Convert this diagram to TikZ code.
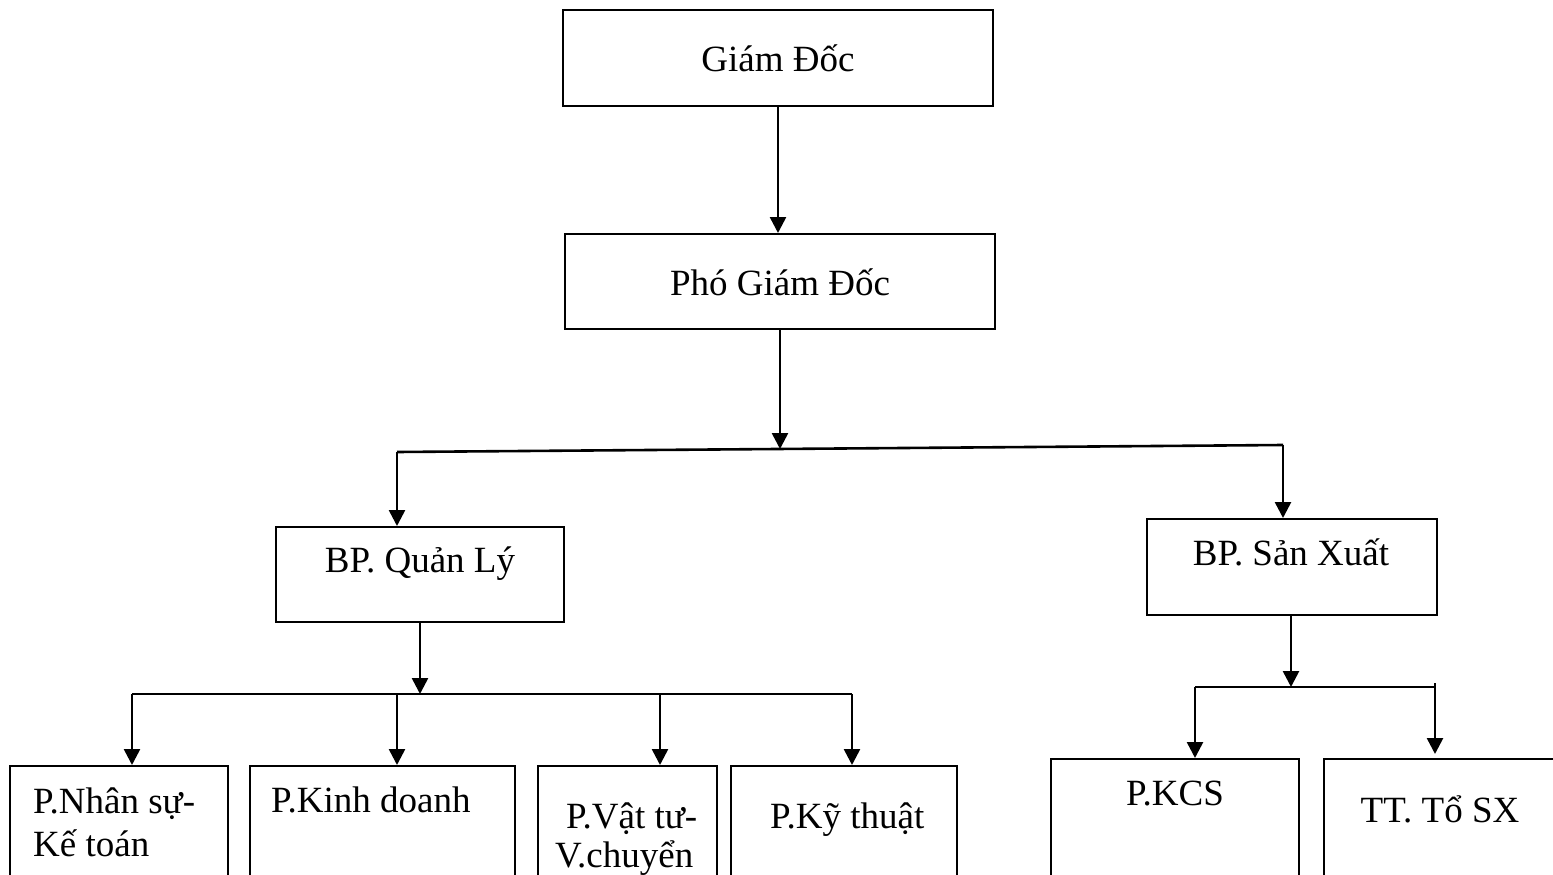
\documentclass[tikz,border=0pt]{standalone}
\usepackage{fontspec}
\setmainfont{Liberation Serif}
\usetikzlibrary{arrows.meta}

\tikzset{
    box/.style={draw, line width=2pt, rectangle, inner sep=0pt},
    conn/.style={line width=2.6pt, -{Triangle[width=16pt,length=16pt]}},
    bar/.style={line width=2.6pt},
    lbl/.style={anchor=base, inner sep=0pt, font=\fontsize{37}{44}\selectfont},
    lbll/.style={lbl, anchor=base west}
}

\begin{document}
\begin{tikzpicture}[x=1pt, y=-1pt]
    \useasboundingbox (0,0) rectangle (1553,875);

    % Top boxes
    \node[box, minimum width=430, minimum height=96] (gd) at (778,58) {};
    \node[lbl] (gdt) at (778,72) {Giám Đốc};
    \node[box, minimum width=430, minimum height=95] (pgd) at (780,281.5) {};
    \node[lbl] (pgdt) at (780,295) {Phó Giám Đốc};

    % Departments
    \node[box, minimum width=288, minimum height=95] (ql) at (420,574.5) {};
    \node[lbl] (qlt) at (420,572) {BP. Quản Lý};
    \node[box, minimum width=290, minimum height=96] (sx) at (1292,567) {};
    \node[lbl] (sxt) at (1291,565) {BP. Sản Xuất};

    % Offices (bottom row, cut by the page edge)
    \node[box, minimum width=218, minimum height=160] (ns) at (119,846) {};
    \node[lbll] (nst1) at (33,813) {P.Nhân sự-};
    \node[lbll] (nst2) at (33,856) {Kế toán};
    \node[box, minimum width=265, minimum height=160] (kd) at (382.5,846) {};
    \node[lbll] (kdt) at (271,812) {P.Kinh doanh};
    \node[box, minimum width=179, minimum height=160] (vt) at (627.5,846) {};
    \node[lbll] (vtt1) at (566,828) {P.Vật tư-};
    \node[lbll] (vtt2) at (555,867) {V.chuyển};
    \node[box, minimum width=226, minimum height=160] (kt) at (844,846) {};
    \node[lbll] (ktt) at (770,828) {P.Kỹ thuật};
    \node[box, minimum width=248, minimum height=170] (kcs) at (1175,844) {};
    \node[lbl] (kcst) at (1175,805) {P.KCS};
    \node[box, minimum width=236, minimum height=170] (tt) at (1442,844) {};
    \node[lbl] (ttt) at (1440,822) {TT. Tổ SX};

    % Branch points
    \coordinate (hl) at (397,452);
    \coordinate (hr) at (1283,445);
    \coordinate (hm) at (780,449);
    \coordinate (b1) at (132,694);
    \coordinate (b2) at (397,694);
    \coordinate (b3) at (660,694);
    \coordinate (b4) at (852,694);
    \coordinate (bm) at (420,694);
    \coordinate (c1) at (1195,687);
    \coordinate (c2) at (1435,687);
    \coordinate (c2t) at (1435,683);
    \coordinate (cm) at (1291,687);

    % Arrows
    \draw[conn] (gd) -- (gd |- pgd.north);
    \draw[conn] (pgd) -- (hm);
    \draw[bar] (hl) -- (hr);
    \draw[conn] (hl) -- (hl |- ql.north);
    \draw[conn] (hr) -- (hr |- sx.north);

    \draw[conn] (ql) -- (bm);
    \draw[bar] (b1) -- (b4);
    \draw[conn] (b1) -- (b1 |- ns.north);
    \draw[conn] (b2) -- (b2 |- kd.north);
    \draw[conn] (b3) -- (b3 |- vt.north);
    \draw[conn] (b4) -- (b4 |- kt.north);

    \draw[conn] (sx.south -| cm) -- (cm);
    \draw[bar] (c1) -- (c2);
    \draw[conn] (c1) -- (c1 |- kcs.north);
    \draw[conn] (c2t) -- ([yshift=4pt]c2 |- tt.north);
\end{tikzpicture}
\end{document}
